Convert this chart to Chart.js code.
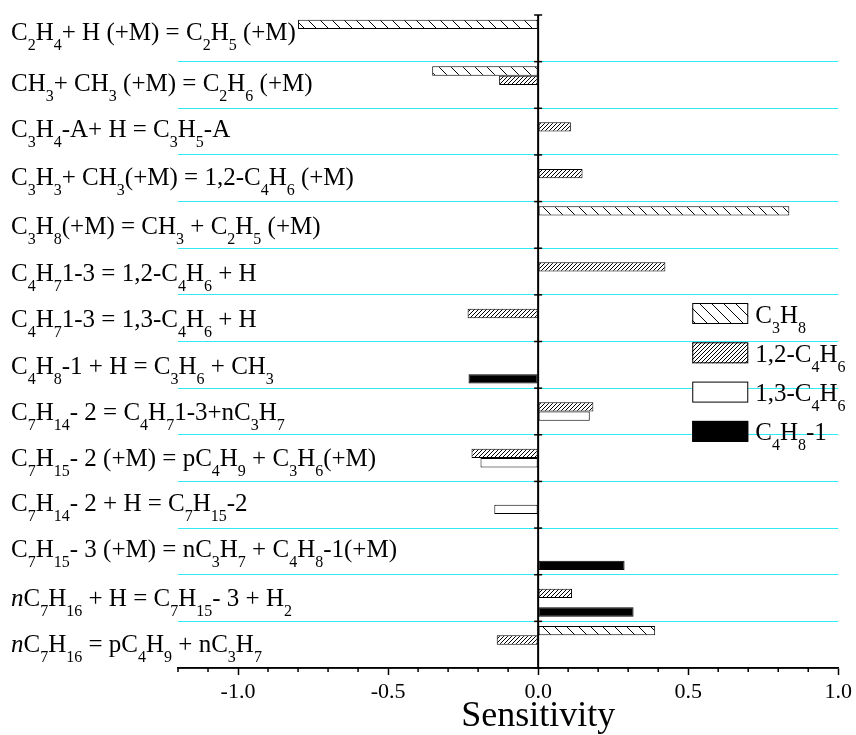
<!DOCTYPE html>
<html>
<head>
<meta charset="UTF-8">
<title>Sensitivity</title>
<style>
body {
	margin: 0;
	background-color: #ffffff;
}
</style>
<script src="https://cdn.jsdelivr.net/npm/chart.js"></script>
</head>
<body>
<canvas id="sensChart" width="856" height="735"></canvas>
<script>
// _{..} = subscript, ~{..} = italic
const reactions = [
	"C_{2}H_{4}+ H (+M) = C_{2}H_{5} (+M)",
	"CH_{3}+ CH_{3} (+M) = C_{2}H_{6} (+M)",
	"C_{3}H_{4}-A+ H = C_{3}H_{5}-A",
	"C_{3}H_{3}+ CH_{3}(+M) = 1,2-C_{4}H_{6} (+M)",
	"C_{3}H_{8}(+M) = CH_{3} + C_{2}H_{5} (+M)",
	"C_{4}H_{7}1-3 = 1,2-C_{4}H_{6} + H",
	"C_{4}H_{7}1-3 = 1,3-C_{4}H_{6} + H",
	"C_{4}H_{8}-1 + H = C_{3}H_{6} + CH_{3}",
	"C_{7}H_{14}- 2 = C_{4}H_{7}1-3+nC_{3}H_{7}",
	"C_{7}H_{15}- 2 (+M) = pC_{4}H_{9} + C_{3}H_{6}(+M)",
	"C_{7}H_{14}- 2 + H = C_{7}H_{15}-2",
	"C_{7}H_{15}- 3 (+M) = nC_{3}H_{7} + C_{4}H_{8}-1(+M)",
	"~{n}C_{7}H_{16} + H = C_{7}H_{15}- 3 + H_{2}",
	"~{n}C_{7}H_{16} = pC_{4}H_{9} + nC_{3}H_{7}"
];
const seriesNames = ["C_{3}H_{8}", "1,2-C_{4}H_{6}", "1,3-C_{4}H_{6}", "C_{4}H_{8}-1"];

const c3h8   = [-0.80, -0.353, null, null, 0.837, null, null, null, null, null, null, null, null, 0.39];
const c4h6_12 = [null, -0.13, 0.109, 0.148, null, 0.424, -0.235, null, 0.184, -0.222, null, null, 0.113, -0.138];
const c4h6_13 = [null, null, null, null, null, null, null, null, 0.172, -0.192, -0.146, null, null, null];
const c4h8_1 = [null, null, null, null, null, null, null, -0.232, null, null, null, 0.288, 0.318, null];

const xTicks = [-1.0, -0.5, 0.0, 0.5, 1.0];

// baseline shift of each reaction label below its row centre
const labelDy = [2, 6, 5, 7, 9, 9, 9, 9, 9, 8, 6, 6, 8, 7];

const SERIF = '"Liberation Serif", "Times New Roman", serif';
const canvas = document.getElementById('sensChart');
const mainCtx = canvas.getContext('2d');

function hatch(dir, p) {
	const tile = document.createElement('canvas');
	tile.width = p; tile.height = p;
	const g = tile.getContext('2d');
	g.fillStyle = '#fff';
	g.fillRect(0, 0, p, p);
	g.strokeStyle = '#000';
	g.lineWidth = 1;
	g.beginPath();
	for (let k = -1; k <= 1; k++) {
		if (dir === 'back') { g.moveTo(k * p, 0); g.lineTo(k * p + p, p); }
		else { g.moveTo(k * p, p); g.lineTo(k * p + p, 0); }
	}
	g.stroke();
	return mainCtx.createPattern(tile, 'repeat');
}

// draws text with _{sub} and ~{italic} parts
function drawRich(ctx, str, x, y, size) {
	const subSize = Math.round(size * 0.64);
	const parts = [];
	let buf = '';
	let i = 0;
	while (i < str.length) {
		if ((str[i] === '_' || str[i] === '~') && str[i + 1] === '{') {
			if (buf) { parts.push(['n', buf]); buf = ''; }
			const end = str.indexOf('}', i);
			parts.push([str[i], str.slice(i + 2, end)]);
			i = end + 1;
		} else {
			buf += str[i];
			i++;
		}
	}
	if (buf) parts.push(['n', buf]);
	ctx.save();
	ctx.fillStyle = '#000';
	ctx.textAlign = 'left';
	ctx.textBaseline = 'alphabetic';
	parts.forEach(([mode, txt]) => {
		if (mode === '_') ctx.font = subSize + 'px ' + SERIF;
		else if (mode === '~') ctx.font = 'italic ' + size + 'px ' + SERIF;
		else ctx.font = size + 'px ' + SERIF;
		ctx.fillText(txt, x, mode === '_' ? y + 10 : y);
		x += ctx.measureText(txt).width;
	});
	ctx.restore();
}

const decor = {
	id: 'decor',
	afterDatasetsDraw(chart) {
		const ctx = chart.ctx;
		const xs = chart.scales.x, ys = chart.scales.y;
		const area = chart.chartArea;
		const x0 = xs.getPixelForValue(0);
		ctx.save();
		ctx.strokeStyle = '#000';
		ctx.lineWidth = 2;
		ctx.beginPath();
		ctx.moveTo(x0, area.top);
		ctx.lineTo(x0, area.bottom);
		ctx.stroke();
		ctx.lineWidth = 1.5;
		for (let i = 0; i <= reactions.length; i++) {
			const y = ys.getPixelForValue(i - 0.5);
			ctx.beginPath();
			ctx.moveTo(x0 - 4, y);
			ctx.lineTo(x0 + 4, y);
			ctx.stroke();
		}
		// x axis line and minor ticks
		ctx.beginPath();
		ctx.moveTo(area.left, area.bottom);
		ctx.lineTo(area.right, area.bottom);
		ctx.stroke();
		for (let k = Math.round(xs.min * 10); k <= Math.round(xs.max * 10); k++) {
			if (k % 5 === 0) continue;
			const x = xs.getPixelForValue(k / 10);
			ctx.beginPath();
			ctx.moveTo(x, area.bottom);
			ctx.lineTo(x, area.bottom + 4);
			ctx.stroke();
		}
		ctx.restore();
	},
	afterDraw(chart) {
		const ctx = chart.ctx;
		const xs = chart.scales.x, ys = chart.scales.y;
		const area = chart.chartArea;
		reactions.forEach((r, i) => {
			drawRich(ctx, r, 11, ys.getPixelForValue(i) + labelDy[i], 25);
		});
		// axis title, centred under zero like the original
		ctx.save();
		ctx.fillStyle = '#000';
		ctx.font = '36px ' + SERIF;
		ctx.textAlign = 'center';
		ctx.textBaseline = 'alphabetic';
		ctx.fillText('Sensitivity', xs.getPixelForValue(0), 726);
		ctx.restore();
		// legend
		chart.data.datasets.forEach((ds, i) => {
			const bx = area.right - 146, by = area.top + 288 + i * 39.3;
			ctx.save();
			ctx.fillStyle = ds.backgroundColor;
			ctx.fillRect(bx, by, 56, 21);
			ctx.strokeStyle = '#000';
			ctx.lineWidth = 1;
			ctx.strokeRect(bx + 0.5, by + 0.5, 55, 20);
			ctx.restore();
			drawRich(ctx, seriesNames[i], bx + 63, by + 19.5, 25);
		});
	}
};

const colors = [hatch('back', 12), hatch('fwd', 4), '#ffffff', '#000000'];
const values = [c3h8, c4h6_12, c4h6_13, c4h8_1];

new Chart(canvas, {
	type: 'bar',
	data: {
		labels: reactions,
		datasets: values.map((v, i) => ({
			label: seriesNames[i],
			data: v,
			backgroundColor: colors[i],
			borderColor: '#000',
			borderWidth: 1,
			borderSkipped: false,
			categoryPercentage: 0.8,
			barPercentage: 1.0
		}))
	},
	options: {
		indexAxis: 'y',
		responsive: false,
		animation: false,
		layout: { padding: { top: 15, right: 16, left: 0, bottom: 0 } },
		plugins: {
			legend: { display: false },
			tooltip: { enabled: false }
		},
		scales: {
			x: {
				min: -1.2,
				max: 1.0,
				afterFit: (s) => { s.height = 67; },
				ticks: {
					stepSize: 0.1,
					autoSkip: false,
					maxRotation: 0,
					padding: 4,
					color: '#000',
					font: { family: SERIF, size: 22 },
					callback: (v) => xTicks.some(t => Math.abs(t - v) < 1e-6) ? Number(v).toFixed(1) : ''
				},
				grid: {
					drawOnChartArea: false,
					drawTicks: true,
					tickLength: 7,
					tickWidth: 1.5,
					tickColor: (c) => xTicks.some(t => Math.abs(t - c.tick.value) < 1e-6) ? '#000' : 'rgba(0,0,0,0)'
				},
				border: { display: true, color: '#000', width: 1.5 }
			},
			y: {
				afterFit: (s) => { s.width = 178; },
				ticks: { display: false },
				grid: {
					offset: true,
					drawTicks: false,
					lineWidth: 1,
					color: (c) => (c.type !== 'tick' || c.index === 0) ? 'rgba(0,0,0,0)' : '#30ecf2'
				},
				border: { display: false }
			}
		}
	},
	plugins: [decor]
});
</script>
</body>
</html>
